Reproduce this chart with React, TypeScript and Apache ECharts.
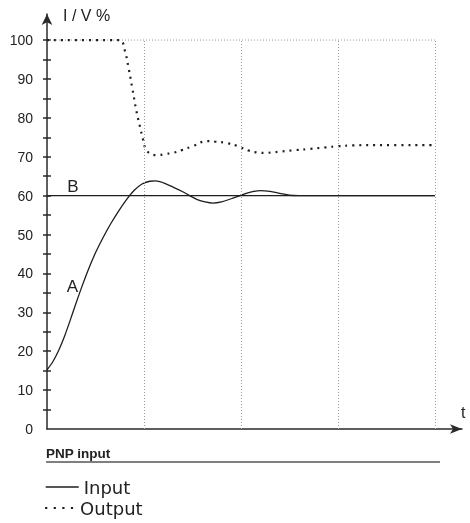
import React, { useEffect, useRef } from "react";
import * as echarts from "echarts";

// Input curve (solid), x in time units, y in %
const inputX = [0, 0.06, 0.12, 0.18, 0.24, 0.3, 0.36, 0.43, 0.5, 0.58, 0.66, 0.74, 0.82, 0.9, 0.98, 1.06, 1.12, 1.2, 1.3, 1.4, 1.47, 1.55, 1.63, 1.71, 1.8, 1.9, 1.99, 2.08, 2.2, 2.3, 2.4, 2.5, 2.6, 3, 4];
const inputY = [15.2, 17.3, 20.2, 23.8, 28, 32.4, 36.6, 41.2, 45.3, 49.3, 52.9, 56.1, 59, 61.4, 63, 63.7, 63.8, 63.3, 62.2, 61, 60, 59, 58.4, 58.1, 58.4, 59.2, 60, 60.8, 61.3, 61.1, 60.6, 60.1, 60, 60, 60];

// Output curve (dotted)
const outputX = [0, 0.75, 0.8, 0.84, 0.88, 0.92, 0.96, 0.99, 1.03, 1.13, 1.22, 1.3, 1.39, 1.5, 1.65, 1.73, 1.86, 1.96, 2.09, 2.17, 2.25, 2.32, 2.4, 2.56, 2.71, 2.87, 3.0, 3.15, 3.4, 4.0];
const outputY = [100, 100, 97.5, 93, 87.6, 82, 77.6, 74.5, 71.5, 70.4, 70.7, 71.0, 71.7, 72.7, 74.0, 73.9, 73.5, 72.8, 71.5, 71.1, 71.0, 71.1, 71.3, 71.7, 72.0, 72.4, 72.7, 72.9, 73.0, 73.0];

// Reference level B
const refX = [0, 4];
const refY = [60, 60];

// Grid
const gridXs = [1, 2, 3, 4];
const gridTop = 100;

const yLabelValues = [0, 10, 20, 30, 40, 50, 60, 70, 80, 90, 100];
const yTickValues = [5, 10, 15, 20, 25, 30, 35, 40, 45, 50, 55, 60, 65, 70, 75, 80, 85, 90, 95, 100];

const labelA = { x: 0.263, y: 36.6, text: "A" };
const labelB = { x: 0.268, y: 62.4, text: "B" };

const xMax = 4.28;
const yMax = 106.7;

const ink = "#1e1e1e";
const font = "Liberation Sans";

export default function App() {
  const ref = useRef<HTMLDivElement>(null);
  useEffect(() => {
    if (!ref.current) return;
    const chart = echarts.init(ref.current, null, { renderer: "svg" });
    const zip = (xs: number[], ys: number[]) => xs.map((x, i) => [x, ys[i]]);
    const legendText = { color: "#222", fontSize: 18, fontFamily: "DejaVu Sans", lineHeight: 20 };
    chart.setOption({
      animation: false,
      grid: { left: 47, right: 8, top: 14, bottom: 94 },
      xAxis: {
        type: "value",
        min: 0,
        max: xMax,
        axisLine: { show: true, symbol: ["none", "arrow"], symbolSize: [7, 12], lineStyle: { color: "#2a2a2a", width: 1.5 } },
        axisTick: { show: false },
        axisLabel: { show: false },
        splitLine: { show: false },
      },
      yAxis: [
        {
          type: "value",
          min: 0,
          max: yMax,
          axisLine: { show: true, symbol: ["none", "arrow"], symbolSize: [8, 11], lineStyle: { color: "#2a2a2a", width: 1.5 } },
          axisTick: { show: true, length: 4, customValues: yTickValues, lineStyle: { color: "#2a2a2a", width: 1.5 } },
          axisLabel: { show: true, customValues: yLabelValues, margin: 14, color: "#222", fontSize: 14, fontFamily: font },
          splitLine: { show: false },
        },
        {
          type: "value",
          min: 0,
          max: yMax,
          position: "left",
          axisLine: { show: false },
          axisTick: { show: true, inside: true, length: 4, customValues: yTickValues, lineStyle: { color: "#2a2a2a", width: 1.5 } },
          axisLabel: { show: false },
          splitLine: { show: false },
        },
      ],
      legend: [
        {
          data: ["Input"],
          left: 45,
          top: 477,
          padding: 0,
          itemWidth: 33,
          itemHeight: 20,
          itemStyle: { color: "transparent", borderWidth: 0, opacity: 0 },
          lineStyle: { color: ink, width: 1.4 },
          textStyle: legendText,
          selectedMode: false,
        },
        {
          data: ["Output"],
          left: 44,
          top: 498,
          padding: 0,
          itemWidth: 30,
          itemHeight: 20,
          itemStyle: { color: "transparent", borderWidth: 0, opacity: 0 },
          lineStyle: { color: ink, width: 2.2, type: [2.2, 6.4] },
          textStyle: legendText,
          selectedMode: false,
        },
      ],
      graphic: [
        { type: "text", left: 63, top: 7, style: { text: "I / V %", font: `16px '${font}'`, fill: "#222" } },
        { type: "text", left: 461, top: 404, style: { text: "t", font: `16px '${font}'`, fill: "#222" } },
        { type: "text", left: 46, top: 446, style: { text: "PNP input", font: `bold 13.5px '${font}'`, fill: "#222" } },
        { type: "line", shape: { x1: 46, y1: 462, x2: 440, y2: 462 }, style: { stroke: "#555", lineWidth: 1.5 } },
      ],
      series: [
        {
          name: "grid",
          type: "line",
          silent: true,
          symbol: "none",
          data: [[0, gridTop], [gridXs[gridXs.length - 1], gridTop]],
          lineStyle: { color: "#999", width: 1, type: [1, 2] },
          markLine: {
            silent: true,
            symbol: ["none", "none"],
            label: { show: false },
            lineStyle: { color: "#999", width: 1, type: [1, 2] },
            data: gridXs.map((x) => [{ coord: [x, 0] }, { coord: [x, gridTop] }]),
          },
        },
        {
          name: "B",
          type: "line",
          symbol: "none",
          data: zip(refX, refY),
          lineStyle: { color: ink, width: 1.2 },
          markPoint: {
            symbolSize: 0,
            data: [{ coord: [labelB.x, labelB.y], value: labelB.text }],
            label: { show: true, formatter: labelB.text, color: "#222", fontSize: 17, fontFamily: font },
          },
        },
        {
          name: "Input",
          type: "line",
          symbol: "none",
          smooth: 0.3,
          data: zip(inputX, inputY),
          color: ink,
          lineStyle: { color: ink, width: 1.3 },
          markPoint: {
            symbolSize: 0,
            data: [{ coord: [labelA.x, labelA.y], value: labelA.text }],
            label: { show: true, formatter: labelA.text, color: "#222", fontSize: 17, fontFamily: font },
          },
        },
        {
          name: "Output",
          type: "line",
          symbol: "none",
          smooth: 0.4,
          data: zip(outputX, outputY),
          color: ink,
          lineStyle: { color: ink, width: 2.2, type: [2, 5] },
        },
      ],
    });
    return () => chart.dispose();
  }, []);
  return <div ref={ref} style={{ position: "fixed", left: 0, top: 0, width: 470, height: 523 }} />;
}
